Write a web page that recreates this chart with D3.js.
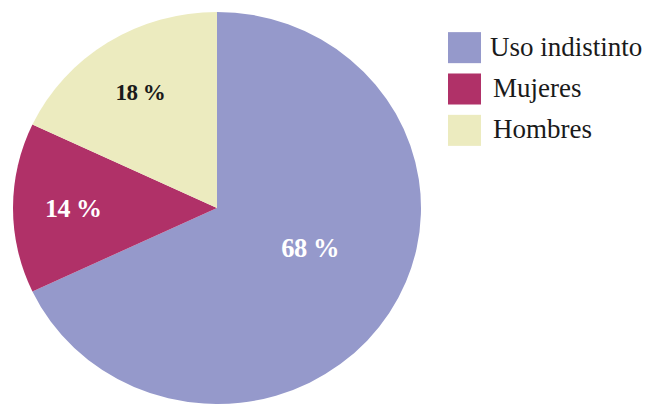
<!DOCTYPE html>
<html>
<head>
<meta charset="utf-8">
<script src="https://cdn.jsdelivr.net/npm/d3@7"></script>
<style>
  html, body { margin: 0; padding: 0; background: #fff; }
  svg { display: block; }
</style>
</head>
<body>
<svg id="chart" width="645" height="404"></svg>
<script>
// Share of use, by category (percent)
const categories = ["Uso indistinto", "Mujeres", "Hombres"];
const values = [68, 14, 18];
const labels = ["68 %", "14 %", "18 %"];
const colors = ["#9599CB", "#B03168", "#ECEBBF"];
const labelColors = ["#ffffff", "#ffffff", "#1a1a1a"];

// Label placement: fraction of radius, angular nudge (degrees), font size
const labelRadius = [0.5, 0.705, 0.70];
const labelTurn = [-8.3, 0, 0];
const labelSize = [26.5, 26, 23];

const W = 645, H = 404;
const cx = 217, cy = 208;
const rx = 204, ry = 196;

const svg = d3.select("#chart");

const pie = d3.pie().sort(null).value(d => d)(values);
const arc = d3.arc().innerRadius(0).outerRadius(ry);

// Slightly wide ellipse: draw circle of radius ry, stretch horizontally
const g = svg.append("g")
  .attr("transform", `translate(${cx},${cy}) scale(${rx / ry},1)`);

g.selectAll("path")
  .data(pie)
  .join("path")
  .attr("d", arc)
  .attr("fill", (d, i) => colors[i]);

// Value labels
svg.append("g")
  .selectAll("text")
  .data(pie)
  .join("text")
  .attr("x", (d, i) => {
    const a = (d.startAngle + d.endAngle) / 2 + labelTurn[i] * Math.PI / 180;
    return cx + Math.sin(a) * labelRadius[i] * rx;
  })
  .attr("y", (d, i) => {
    const a = (d.startAngle + d.endAngle) / 2 + labelTurn[i] * Math.PI / 180;
    return cy - Math.cos(a) * labelRadius[i] * ry;
  })
  .attr("dy", "0.35em")
  .attr("text-anchor", "middle")
  .attr("font-family", "'Liberation Serif', 'DejaVu Serif', serif")
  .attr("font-weight", "bold")
  .attr("font-size", (d, i) => labelSize[i])
  .attr("letter-spacing", "-0.5")
  .attr("fill", (d, i) => labelColors[i])
  .text((d, i) => labels[i]);

// Legend
const legendY = d3.scaleBand()
  .domain(categories)
  .range([28, 150])
  .paddingInner(0.25)
  .paddingOuter(0.1);

const legend = svg.append("g")
  .selectAll("g")
  .data(categories)
  .join("g")
  .attr("transform", d => `translate(448,${legendY(d)})`);

legend.append("rect")
  .attr("width", 33)
  .attr("height", legendY.bandwidth())
  .attr("fill", (d, i) => colors[i]);

legend.append("text")
  .attr("x", (d, i) => i === 0 ? 42 : 45)
  .attr("y", legendY.bandwidth() / 2 + 8)
  .attr("font-family", "'Liberation Serif', 'DejaVu Serif', serif")
  .attr("font-size", 27)
  .attr("fill", "#1a1a1a")
  .text(d => d);
</script>
</body>
</html>
